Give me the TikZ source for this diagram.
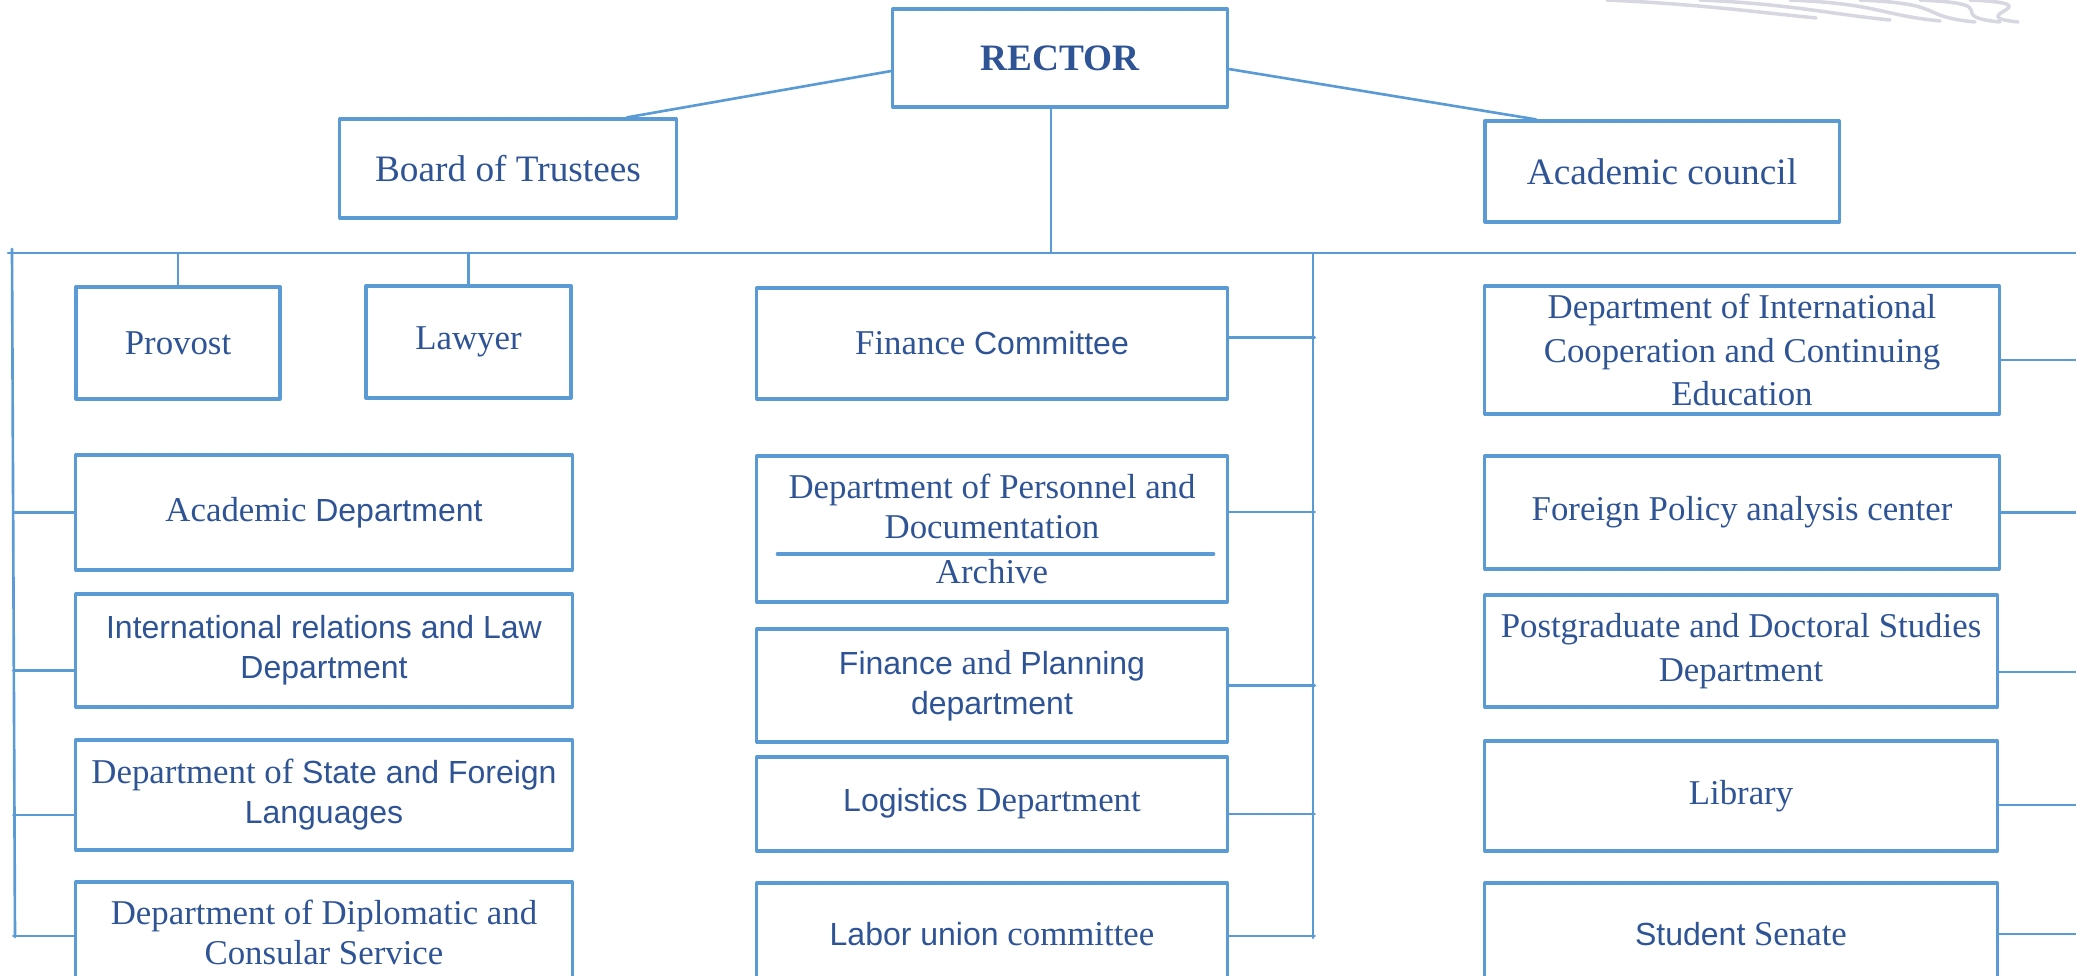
\documentclass[tikz,border=0pt]{standalone}
\usepackage{fontspec}
\setmainfont{Liberation Serif}
\setsansfont{Liberation Sans}
\usepackage{tikz}
\usetikzlibrary{calc}
\definecolor{lineblue}{RGB}{91,155,213}
\definecolor{textblue}{RGB}{47,84,150}
\definecolor{swooshgray}{RGB}{215,215,225}
\newcommand{\ari}[1]{{\sffamily\fontsize{9.1}{11.4}\selectfont #1}}

\begin{document}
\begin{tikzpicture}[x=0.01cm,y=-0.01cm,line cap=round,line join=round,
    box/.style={draw=lineblue,line width=0.9pt,text=textblue,align=center,inner sep=2pt,
      font=\fontsize{9.9}{11.4}\selectfont},
    bigbox/.style={box,font=\fontsize{10.6}{12.5}\selectfont},
    link/.style={draw=lineblue,line width=0.75pt},
    swoosh/.style={draw=swooshgray,line width=1pt}]
  \useasboundingbox (0,0) rectangle (2076,976);
  \clip (0,0) rectangle (2076,976);
  \foreach \a/\b/\c in {1607/1816/18,1700/1890/20,1790/1940/21,1860/1975/22,1920/2000/22,1970/2018/22}
    \draw[swoosh] (\a,0) .. controls ({\a+90},4) and ({\b-60},{\c-6}) .. (\b,\c);

  \node[bigbox,minimum width=3.34cm,minimum height=0.98cm,font=\fontsize{10.6}{12.5}\selectfont\bfseries] (rector) at (1060,58) {RECTOR};
  \node[bigbox,minimum width=3.36cm,minimum height=0.99cm] (trustees) at (508,168.5) {Board of Trustees};
  \node[bigbox,minimum width=3.54cm,minimum height=1.01cm] (council) at (1662,171.5) {Academic council};

  \node[box,minimum width=2.04cm,minimum height=1.12cm] (provost) at (178,343) {\raisebox{-1.5pt}{Provost}};
  \node[box,minimum width=2.05cm,minimum height=1.12cm] (lawyer) at (468.5,342) {\raisebox{-1.5pt}{Lawyer}};
  \node[box,minimum width=4.70cm,minimum height=1.11cm] (fincom) at (992,343.5) {Finance \ari{Committee}};
  \node[box,minimum width=5.14cm,minimum height=1.28cm] (intcoop) at (1742,350) {Department of International\\[1pt]Cooperation and Continuing\\[1pt]Education};

  \node[box,minimum width=4.96cm,minimum height=1.15cm] (acad) at (324,512.5) {Academic \ari{Department}};
  \node[box,minimum width=4.96cm,minimum height=1.13cm] (irl) at (324,650.5) {\ari{International relations and Law}\\\ari{Department}};
  \node[box,minimum width=4.96cm,minimum height=1.10cm] (state) at (324,795) {Department of \ari{State and Foreign}\\\ari{Languages}};
  \node[box,minimum width=4.96cm,minimum height=1.00cm] (dipl) at (324,932) {Department of Diplomatic and\\Consular Service};

  \node[box,minimum width=4.70cm,minimum height=1.46cm] (personnel) at (992,529) {Department of Personnel and\\Documentation\\[1.5pt]Archive};
  \node[box,minimum width=4.70cm,minimum height=1.13cm] (finplan) at (992,685.5) {\ari{Finance} and \ari{Planning}\\\ari{department}};
  \node[box,minimum width=4.70cm,minimum height=0.94cm] (logist) at (992,804) {\ari{Logistics} Department};
  \node[box,minimum width=4.70cm,minimum height=1.02cm] (labor) at (992,934) {\ari{Labor union} committee};

  \node[box,minimum width=5.14cm,minimum height=1.13cm] (fpolicy) at (1742,512.5) {Foreign Policy analysis center};
  \node[box,minimum width=5.12cm,minimum height=1.12cm] (postgrad) at (1741,651) {Postgraduate and Doctoral Studies\\[1pt]Department};
  \node[box,minimum width=5.12cm,minimum height=1.10cm] (library) at (1741,796) {Library};
  \node[box,minimum width=5.12cm,minimum height=1.02cm] (senate) at (1741,934) {\ari{Student} Senate};

  \coordinate (busL) at (8,253);
  \coordinate (busR) at (2076,253);
  \coordinate (spineL) at (12,249);
  \coordinate (spineLend) at (15,937);
  \coordinate (spineM) at (1313,253);
  \coordinate (spineMend) at (1313,938);
  \coordinate (rfoot) at ($(rector.south)+(-9,0)$);

  \draw[link] ($(rector.west)+(0,13)$) -- ($(trustees.north)+(119,0)$);
  \draw[link] ($(rector.east)+(0,11)$) -- ($(council.north)+(-126,0)$);
  \draw[link] (rfoot) -- (rfoot |- busL);
  \draw[link] (busL) -- (busR);
  \draw[link] (spineL) -- (spineLend);
  \draw[link] (spineM) -- (spineMend);
  \draw[link,line width=0.9pt] ($(personnel.west)+(22,25)$) -- ($(personnel.east)+(-15,25)$);

  \foreach \n in {provost,lawyer}
    \draw[link] (\n.north) -- (\n.north |- busL);
  \foreach \n/\dy in {acad/0,irl/20,state/20,dipl/4}
    \draw[link] ($(\n.west)+(0,\dy)$) -- ($(\n.west)+(-61,\dy)$);
  \foreach \n/\dy in {fincom/-6,personnel/-17,finplan/0,logist/10,labor/2}
    \draw[link] ($(\n.east)+(0,\dy)$) -- ($(\n.east)+(86,\dy)$);
  \foreach \n/\dy in {intcoop/10,fpolicy/0,postgrad/21,library/9,senate/0}
    \draw[link] ($(\n.east)+(0,\dy)$) -- ($(\n.east)+(80,\dy)$);
\end{tikzpicture}
\end{document}
